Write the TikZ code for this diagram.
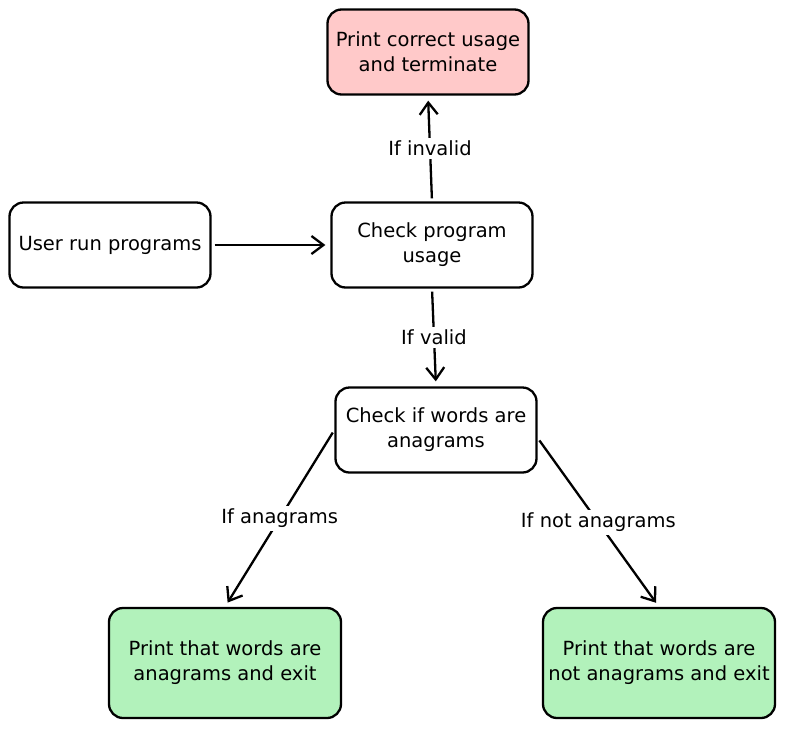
\documentclass[tikz,border=0pt]{standalone}
\usepackage{fontspec}
\setmainfont{DejaVu Sans}
\usetikzlibrary{arrows.meta}
\definecolor{stopred}{HTML}{FFC9C9}
\definecolor{exitgreen}{HTML}{B2F2BB}

\begin{document}
\begin{tikzpicture}[x=1pt,y=-1pt,>={Straight Barb[length=12pt,width=18pt]},
	box/.style={draw,line width=2.3pt,rounded corners=14pt,align=center,
		font=\fontsize{19.5}{25}\selectfont,minimum width=201pt,minimum height=85pt},
	flow/.style={->,line width=2.3pt,shorten >=5pt,shorten <=3pt},
	cond/.style={fill=white,font=\fontsize{19.5}{20}\selectfont,inner sep=3pt}]
	\useasboundingbox (0,0) rectangle (785,729);

	%boxes
	\node[box,fill=stopred] (usage) at (428,52) {Print correct usage\\and terminate};
	\node[box] (user) at (110,245) {User run programs};
	\node[box] (check) at (432,245) {Check program\\usage};
	\node[box] (anag) at (436,430) {Check if words are\\anagrams};
	\node[box,fill=exitgreen,minimum width=232pt,minimum height=110pt] (yes) at (225,663) {Print that words are\\anagrams and exit};
	\node[box,fill=exitgreen,minimum width=232pt,minimum height=110pt] (no) at (659,663) {Print that words are\\not anagrams and exit};

	%arrows
	\draw[flow] (user) -- (check);
	\draw[flow] (check.north) -- node[cond] {If invalid} (usage.south);
	\draw[flow] (check.south) -- node[cond] {If valid} (anag.north);
	\draw[flow] (anag.west) -- node[cond] {If anagrams} (yes.north);
	\draw[flow] ([yshift=-8pt]anag.east) -- node[cond] {If not anagrams} (no.north);
\end{tikzpicture}
\end{document}
